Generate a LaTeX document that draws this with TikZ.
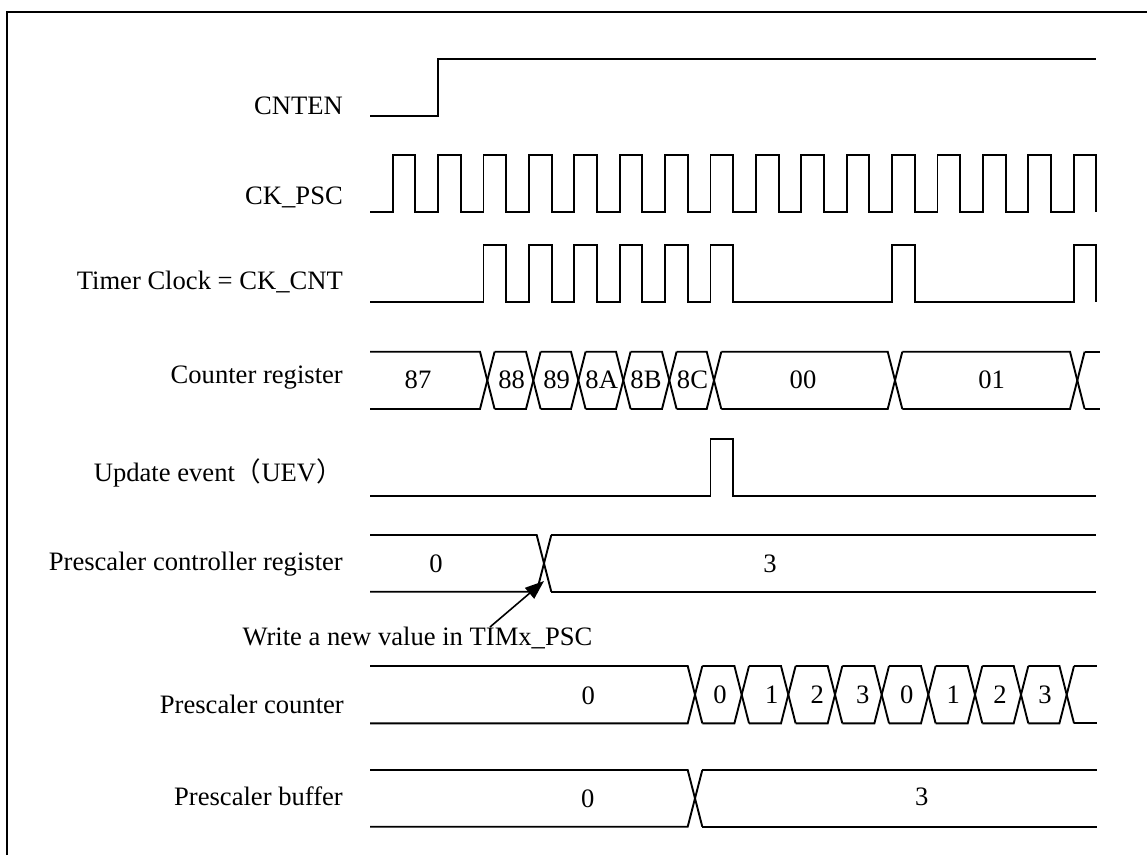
\documentclass[tikz,border=0pt]{standalone}
\usepackage{fontspec}
\setmainfont{Liberation Serif}
\newfontfamily\cjkfont{Noto Sans CJK SC}
\usetikzlibrary{arrows.meta}
\tikzset{
  sig/.style={line width=1.9pt, line join=miter},
  lbl/.style={font=\fontsize{26.6}{30}\selectfont, inner sep=0pt, anchor=base east},
  val/.style={font=\fontsize{26.6}{30}\selectfont, inner sep=0pt},
}
\newcommand\hw{7.3}
\newcommand\drawbus[5]{%
  \xdef\prevx{#3}%
  \foreach \c in {#5} {
    \draw[sig] (\prevx,#1) -- (\c-\hw,#1) -- (\c+\hw,#2);
    \draw[sig] (\prevx,#2) -- (\c-\hw,#2) -- (\c+\hw,#1);
    \pgfmathsetmacro\nx{\c+\hw}
    \xdef\prevx{\nx}
  }
  \draw[sig] (\prevx,#1) -- (#4,#1);
  \draw[sig] (\prevx,#2) -- (#4,#2);
}
\begin{document}
\begin{tikzpicture}[x=1pt,y=-1pt]
\useasboundingbox (0,0) rectangle (1147,855);
% frame (cropped)
\draw[line width=2pt] (7,855) -- (7,11.7) -- (1147,11.7);

% labels
\node[lbl] (lcnten) at (343,114) {CNTEN};
\node[lbl] (lckpsc) at (343,204.3) {CK\_PSC};
\node[lbl] (ltck) at (343,289.3) {Timer Clock = CK\_CNT};
\node[lbl] (lcnt) at (343,383.3) {Counter register};
\node[lbl] (luev) at (343,481) {Update event{\cjkfont （}UEV{\cjkfont ）}};
\node[lbl] (lpcr) at (343,570) {Prescaler controller register};
\node[lbl] (lpc) at (344,713.3) {Prescaler counter};
\node[lbl] (lpb) at (343,805) {Prescaler buffer};
\node[val, anchor=base west] (lwrite) at (242.3,645) {Write a new value in TIMx\_PSC};

% CNTEN
\draw[sig] (370,115.7) -- (438.1,115.7) -- (438.1,59) -- (1096.4,59);

% CK_PSC
\draw[sig] (370,212) foreach \k in {0,...,15}{
  -- ({392.7+45.4*\k},212) -- ({392.7+45.4*\k},155)
  -- ({415.4+45.4*\k},155) -- ({415.4+45.4*\k},212) };

% Timer clock
\draw[sig] (370,302.3) foreach \k in {5,7,9,11,13,15,23,31}{
  -- ({370+22.7*\k},302.3) -- ({370+22.7*\k},245.3)
  -- ({370+22.7*(\k+1)},245.3) -- ({370+22.7*(\k+1)},302.3) };

% Counter register
\drawbus{351.7}{409}{370}{1100}{487.3,533.3,578.3,623.3,669.3,714,895,1077.3}
\node[val] (c87) at (418,379.5) {87};
\node[val] (c88) at (511.7,379.5) {88};
\node[val] (c89) at (556.7,379.5) {89};
\node[val] (c8a) at (601.7,379.5) {8A};
\node[val] (c8b) at (646,379.5) {8B};
\node[val] (c8c) at (692.5,379.5) {8C};
\node[val] (c00) at (803,379.5) {00};
\node[val] (c01) at (991.7,379.5) {01};

% UEV
\draw[sig] (370,496) -- (710.5,496) -- (710.5,439.3) -- (733.2,439.3) -- (733.2,496) -- (1096.4,496);

% Prescaler controller register
\drawbus{535}{591.7}{370}{1096.4}{544}
\node[val] (p0) at (436,564) {0};
\node[val] (p3) at (770,564) {3};

% arrow
\coordinate (wtail) at (490,627);
\coordinate (wtip) at (544,581);
\draw[line width=1.6pt, -{Triangle[length=19pt,width=14pt]}] (wtail) -- (wtip);

% Prescaler counter
\drawbus{666}{723.3}{370}{1096.7}{695,741.7,788.3,835,881.7,928.3,975,1021,1066.7}
\node[val] (q0) at (588.3,696) {0};
\node[val] (qa) at (720,695) {0};
\node[val] (qb) at (771.7,695) {1};
\node[val] (qc) at (817.3,695) {2};
\node[val] (qd) at (862.7,695) {3};
\node[val] (qe) at (906.7,695) {0};
\node[val] (qf) at (953.3,695) {1};
\node[val] (qg) at (1000,695) {2};
\node[val] (qh) at (1045,695) {3};

% Prescaler buffer
\drawbus{770}{826.7}{370}{1096.7}{695}
\node[val] (b0) at (587.7,799) {0};
\node[val] (b3) at (921.7,797) {3};
\end{tikzpicture}
\end{document}
